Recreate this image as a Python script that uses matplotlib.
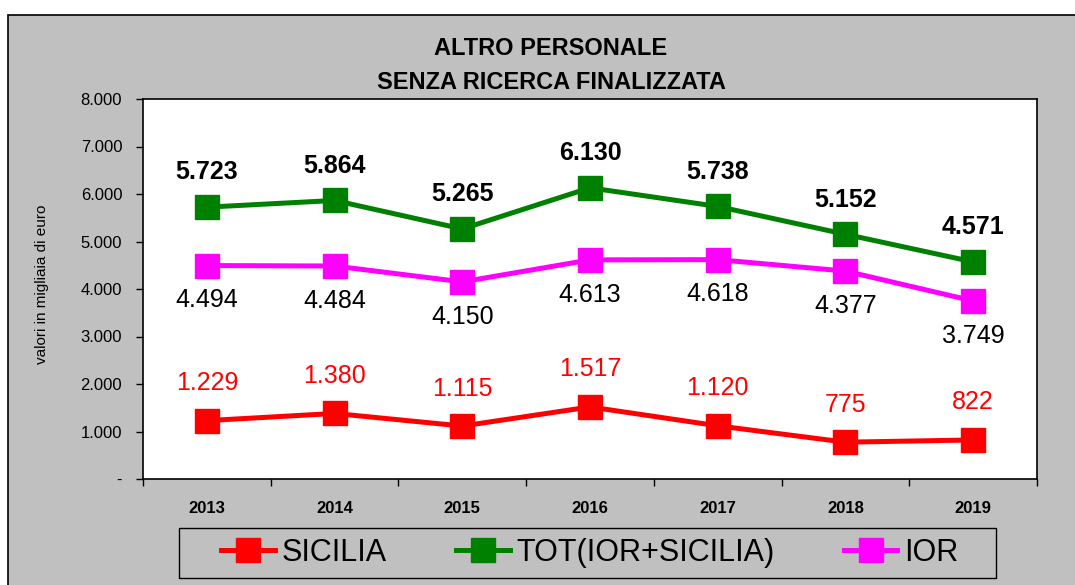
import matplotlib
matplotlib.use("Agg")
import matplotlib.pyplot as plt
from matplotlib.patches import Rectangle
from matplotlib.ticker import FixedLocator, FuncFormatter

plt.rcParams['font.family'] = ['Liberation Sans', 'DejaVu Sans']

years = ["2013", "2014", "2015", "2016", "2017", "2018", "2019"]
sicilia = [1229, 1380, 1115, 1517, 1120, 775, 822]
tot = [5723, 5864, 5265, 6130, 5738, 5152, 4571]
ior = [4494, 4484, 4150, 4613, 4618, 4377, 3749]
title = "ALTRO PERSONALE\nSENZA RICERCA FINALIZZATA"
ylabel = "valori in migliaia di euro"

W, H = 1075, 585
fig = plt.figure(figsize=(W / 100, H / 100), dpi=100, facecolor="white")

# gray outer panel with border on top/left
bg = Rectangle((8 / W, -0.1), 1.2, (H - 15) / H + 0.1, transform=fig.transFigure,
               facecolor="#C0C0C0", edgecolor="black", linewidth=1.2, zorder=-10)
fig.patches.append(bg)

ax = fig.add_axes([143 / W, 1 - 479 / H, (1037 - 143) / W, (479 - 99) / H])
ax.set_facecolor("white")
for s in ax.spines.values():
    s.set_color("black")
    s.set_linewidth(1.2)

x = list(range(len(years)))
ms = 17
lw = 3.6
ax.plot(x, sicilia, color="#FF0000", lw=lw, marker="s", ms=ms, label="SICILIA", zorder=3)
ax.plot(x, tot, color="#008000", lw=lw, marker="s", ms=ms, label="TOT(IOR+SICILIA)", zorder=3)
ax.plot(x, ior, color="#FF00FF", lw=lw, marker="s", ms=ms, label="IOR", zorder=3)

def fmt(v):
    return f"{v:,.0f}".replace(",", ".")

for xi, v in zip(x, tot):
    ax.annotate(fmt(v), (xi, v), xytext=(0, 25), textcoords="offset points",
                ha="center", va="center", fontsize=18, fontweight="bold", color="black")
for xi, v in zip(x, ior):
    ax.annotate(fmt(v), (xi, v), xytext=(0, -25), textcoords="offset points",
                ha="center", va="center", fontsize=18, color="black")
for xi, v in zip(x, sicilia):
    ax.annotate(fmt(v), (xi, v), xytext=(0, 27), textcoords="offset points",
                ha="center", va="center", fontsize=18, color="#FF0000")

ax.set_xlim(-0.5, len(years) - 0.5)
ax.set_ylim(0, 8000)
ax.yaxis.set_major_locator(FixedLocator([i * 1000 for i in range(9)]))
ax.yaxis.set_major_formatter(FuncFormatter(lambda v, p: "-" if v == 0 else fmt(v)))
ax.tick_params(axis="y", direction="out", length=5, width=1, pad=10, labelsize=12)

ax.xaxis.set_major_locator(FixedLocator([i - 0.5 for i in range(len(years) + 1)]))
ax.xaxis.set_major_formatter(FuncFormatter(lambda v, p: ""))
ax.set_xticks(x, minor=True)
ax.set_xticklabels(years, minor=True, fontsize=12, fontweight="bold")
ax.tick_params(axis="x", which="major", direction="out", length=5, width=1)
ax.tick_params(axis="x", which="minor", length=0, pad=16)

fig.text(42 / W, 1 - 284 / H, ylabel, rotation=90, ha="center", va="center", fontsize=11)
fig.text(551 / W, 1 - 65.5 / H, title, ha="center", va="center", fontsize=17,
         fontweight="bold", linespacing=1.6)

# legend frame drawn separately
frame = Rectangle((179 / W, 1 - 578 / H), (996 - 179) / W, 50 / H, transform=fig.transFigure,
                  facecolor="#C0C0C0", edgecolor="black", linewidth=1.0, zorder=1)
fig.patches.append(frame)
leg = fig.legend(loc="center", bbox_to_anchor=(590 / W, 1 - 553 / H),
                 ncol=3, fontsize=22, frameon=False, handlelength=1.76,
                 handletextpad=0.23, columnspacing=2.25, borderpad=0.0, markerscale=1.0)
leg.set_zorder(2)

fig.savefig("out.png", dpi=100, facecolor=fig.get_facecolor())
